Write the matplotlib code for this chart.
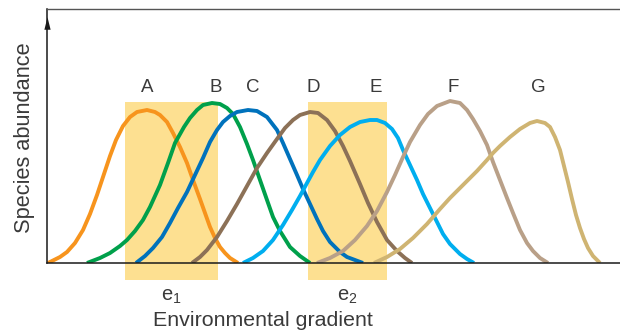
import matplotlib
matplotlib.use("Agg")
import matplotlib.pyplot as plt
from matplotlib.patches import Rectangle
from matplotlib.path import Path

plt.rcParams['font.family'] = ['Liberation Sans', 'DejaVu Sans']
plt.rcParams['mathtext.default'] = 'regular'

# ---- data (gradient position, species abundance) ----
species = ["A", "B", "C", "D", "E", "F", "G"]
label_x = [100, 169, 206, 266, 329, 406, 491]

a_x = [1, 13, 20, 28, 36, 43, 50, 56, 63, 69, 76, 83, 90, 100, 108, 113, 120, 126, 133, 140, 146, 153, 158, 163, 168, 173, 178, 183, 191]
a_y = [0, 6, 11, 20, 33, 49, 68, 86, 107, 123, 137, 146, 151, 153, 151, 148, 141, 130, 116, 100, 83, 64, 50, 36, 25, 16, 10, 5, 0]

b_x = [40, 53, 63, 73, 80, 88, 96, 103, 113, 121, 128, 137, 143, 150, 156, 165, 173, 180, 186, 193, 200, 206, 213, 220, 226, 233, 243, 253, 263]
b_y = [0, 5, 10, 17, 23, 32, 43, 56, 78, 100, 120, 136, 145, 153, 158, 160, 159, 155, 149, 136, 119, 103, 83, 63, 46, 32, 16, 7, 0]

c_x = [89, 98, 106, 115, 123, 131, 140, 148, 156, 163, 170, 176, 183, 190, 201, 210, 220, 230, 236, 243, 250, 256, 263, 270, 276, 283, 293, 300, 308, 316]
c_y = [0, 7, 15, 26, 40, 55, 71, 88, 105, 121, 133, 141, 147, 151, 153, 152, 146, 133, 120, 104, 88, 74, 59, 44, 32, 21, 11, 6, 3, 0]

d_x = [145, 153, 160, 170, 180, 190, 200, 210, 220, 230, 238, 246, 253, 263, 271, 280, 288, 296, 303, 313, 321, 330, 340, 350, 358, 365]
d_y = [0, 6, 13, 26, 42, 59, 77, 95, 110, 124, 135, 143, 148, 151, 150, 143, 132, 117, 102, 79, 60, 41, 23, 12, 5, 0]

e_x = [196, 206, 216, 226, 236, 245, 253, 260, 266, 273, 283, 293, 303, 313, 323, 330, 338, 345, 351, 356, 363, 370, 376, 383, 390, 396, 403, 413, 420, 427]
e_y = [0, 5, 12, 23, 38, 53, 67, 80, 91, 103, 117, 128, 136, 141, 143, 143, 140, 134, 125, 113, 98, 83, 69, 55, 41, 29, 19, 9, 4, 0]

f_x = [270, 283, 296, 308, 320, 330, 340, 348, 356, 363, 373, 381, 390, 403, 413, 420, 426, 433, 440, 446, 453, 460, 466, 473, 480, 486, 493, 501]
f_y = [0, 5, 12, 23, 37, 52, 71, 88, 106, 121, 138, 149, 157, 162, 160, 153, 144, 132, 118, 101, 83, 65, 50, 33, 20, 12, 5, 0]

g_x = [327, 340, 353, 366, 380, 393, 403, 413, 423, 430, 440, 446, 453, 463, 473, 483, 490, 498, 503, 508, 513, 517, 521, 525, 529, 533, 537, 541, 546, 553]
g_y = [0, 6, 14, 25, 39, 54, 65, 75, 85, 92, 103, 110, 117, 126, 134, 140, 142, 140, 136, 126, 113, 97, 81, 64, 48, 35, 24, 15, 7, 0]

curves_x = [a_x, b_x, c_x, d_x, e_x, f_x, g_x]
curves_y = [a_y, b_y, c_y, d_y, e_y, f_y, g_y]

# environmental ranges e1, e2
env_names = ["e$_1$", "e$_2$"]
env_start = [78, 261]
env_end = [171, 340]

colors = ["#F7941D", "#00A04B", "#0072BC", "#8C7157", "#00AEEF", "#B9A088", "#CFB472"]
text_color = "#3a3a3a"

fig = plt.figure(figsize=(6.2, 3.34), dpi=100)
ax = fig.add_axes([47 / 620, (334 - 263) / 334, (620 - 47) / 620, (263 - 9) / 334])
ax.set_xlim(0, 573)
ax.set_ylim(0, 254)

# shaded bands
for s, e, name in zip(env_start, env_end, env_names):
    ax.add_patch(Rectangle((s, -17), e - s, 178, facecolor="#FDE091",
                           edgecolor="none", clip_on=False, zorder=1))
    ax.text((s + e) / 2, -34, name, ha="center", va="center", fontsize=14.5,
            color=text_color, clip_on=False)

for xs, ys, c in zip(curves_x, curves_y, colors):
    ax.plot(xs, ys, color=c, lw=2.8, solid_capstyle="butt",
            solid_joinstyle="round", zorder=3)

# species labels above peaks
for name, lx in zip(species, label_x):
    ax.text(lx, 176, name, ha="center", va="center", fontsize=13.5,
            color=text_color)

ax.set_xticks([])
ax.set_yticks([])
ax.spines["right"].set_visible(False)
ax.spines["top"].set_color("#555555")
ax.spines["top"].set_linewidth(1.0)
ax.spines["left"].set_color("#1a1a1a")
ax.spines["left"].set_linewidth(1.1)
ax.spines["bottom"].set_color("#1a1a1a")
ax.spines["bottom"].set_linewidth(1.1)
for sp in ax.spines.values():
    sp.set_zorder(4)

# arrow head on the vertical axis
tri = Path([(-3, -6), (3, -6), (0, 6), (-3, -6)],
           [Path.MOVETO, Path.LINETO, Path.LINETO, Path.CLOSEPOLY])
ax.plot([0], [240], marker=tri, markersize=9, color="#1a1a1a", clip_on=False,
        zorder=5, markeredgewidth=0)

fig.text(25 / 620, 1 - 137.5 / 334, "Species abundance", rotation=90,
         ha="center", va="center", fontsize=15.7, color=text_color)
fig.text(263 / 620, 1 - 321 / 334, "Environmental gradient", ha="center",
         va="center", fontsize=15.4, color=text_color)

fig.savefig("out.png", dpi=100)
